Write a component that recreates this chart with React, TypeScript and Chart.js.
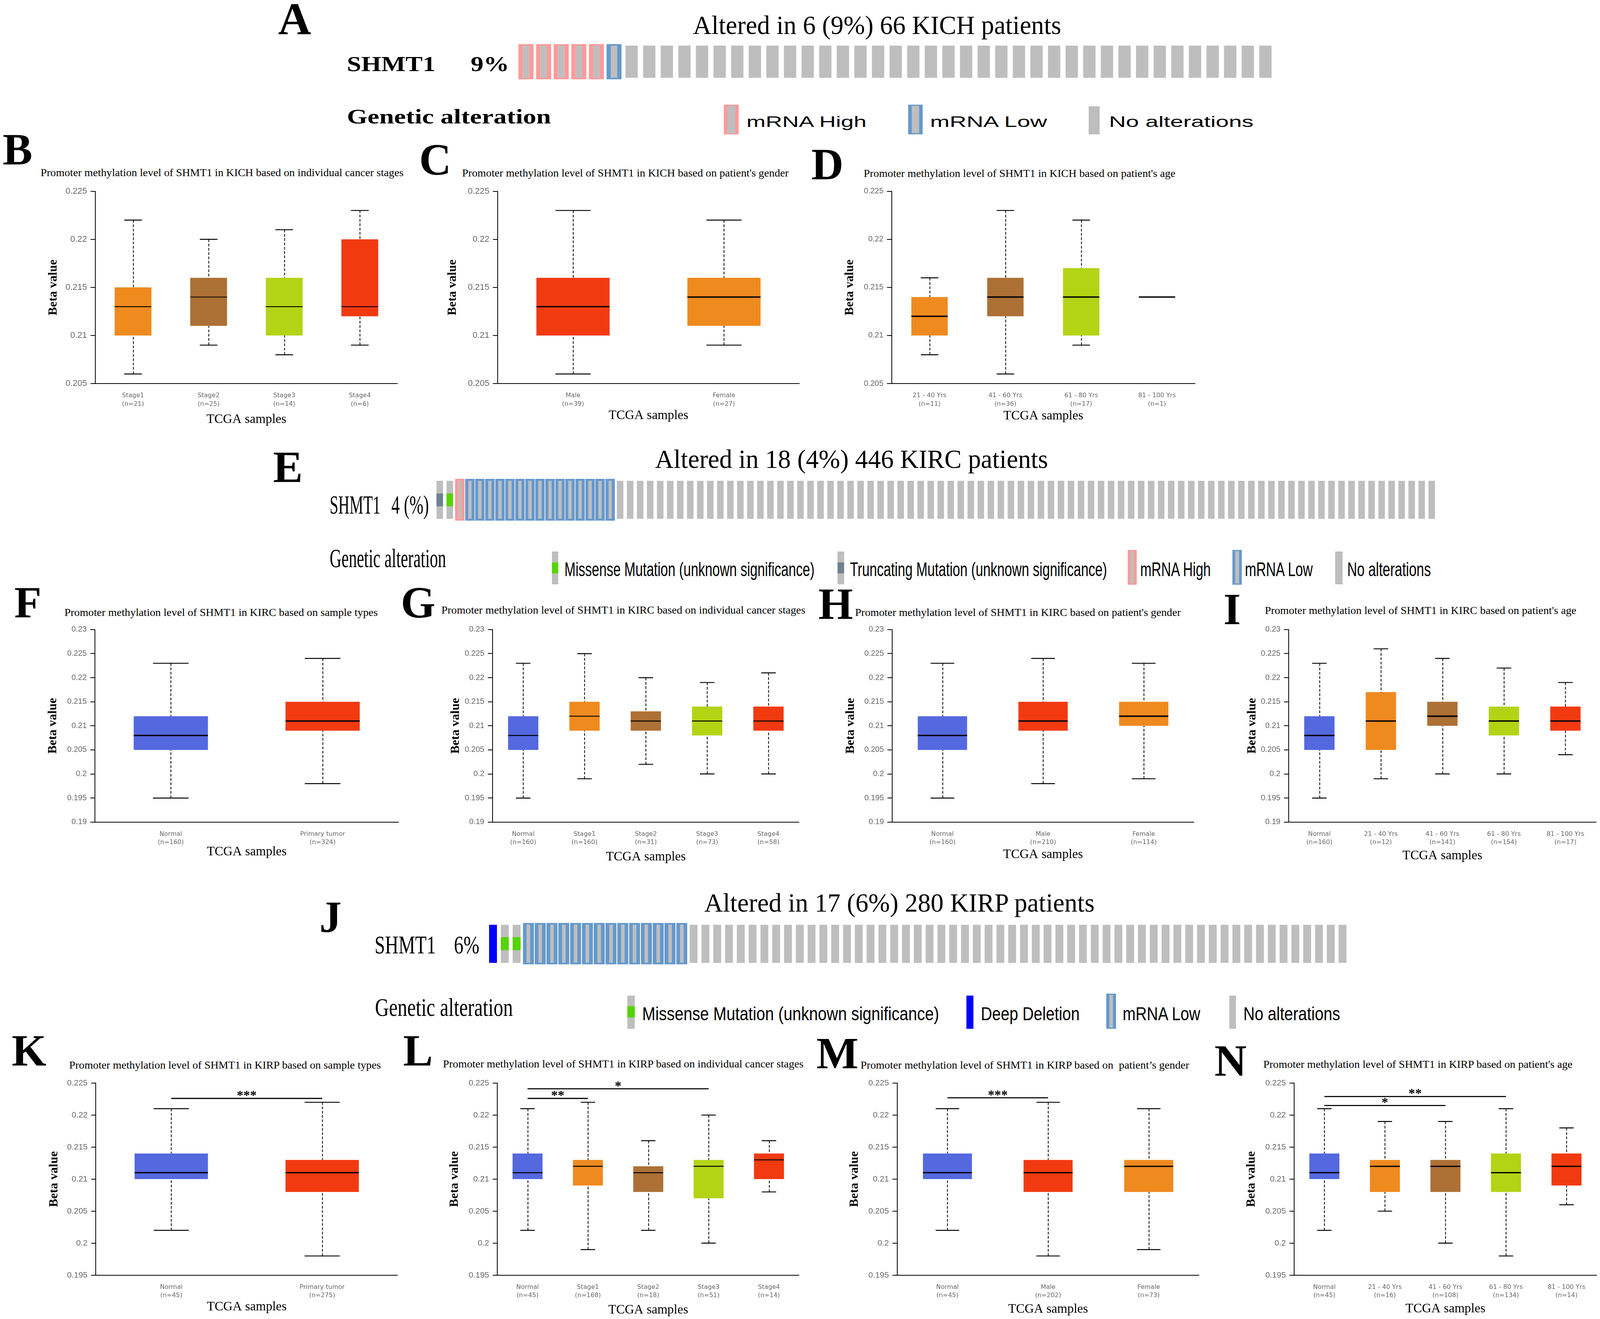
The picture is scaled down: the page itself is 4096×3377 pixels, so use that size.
import React, { useEffect, useRef } from "react";
import { Chart, registerables } from "chart.js";

Chart.register(...registerables);

const SERIF = '"Liberation Serif", "Times New Roman", Times, serif';
const SANS = '"Liberation Sans", Arial, Helvetica, sans-serif';
const CATF = '"DejaVu Sans", Verdana, sans-serif';

const BLUE = "#5468E0";
const RED = "#F23A11";
const ORANGE = "#EF8A1F";
const BROWN = "#AD7035";
const LIME = "#B2D415";
const GRAY = "#BEBEBE";
const PINK = "#FF9A9A";
const LOWBLUE = "#6699CC";
const GREEN = "#55D400";
const SLATE = "#708090";
const DEEP = "#0000FF";

// ================= DATA =================
const kichTicks = [0.205, 0.21, 0.215, 0.22, 0.225];
const kircTicks = [0.19, 0.195, 0.2, 0.205, 0.21, 0.215, 0.22, 0.225, 0.23];
const kirpTicks = [0.195, 0.2, 0.205, 0.21, 0.215, 0.22, 0.225];

// B - KICH, cancer stages
const bCats = [["Stage1", "(n=21)"], ["Stage2", "(n=25)"], ["Stage3", "(n=14)"], ["Stage4", "(n=6)"]];
const bMin = [0.206, 0.209, 0.208, 0.209];
const bQ1 = [0.21, 0.211, 0.21, 0.212];
const bMed = [0.213, 0.214, 0.213, 0.213];
const bQ3 = [0.215, 0.216, 0.216, 0.22];
const bMax = [0.222, 0.22, 0.221, 0.223];

// C - KICH, gender
const cCats = [["Male", "(n=39)"], ["Female", "(n=27)"]];
const cMin = [0.206, 0.209];
const cQ1 = [0.21, 0.211];
const cMed = [0.213, 0.214];
const cQ3 = [0.216, 0.216];
const cMax = [0.223, 0.222];

// D - KICH, age
const dCats = [["21 - 40 Yrs", "(n=11)"], ["41 - 60 Yrs", "(n=36)"], ["61 - 80 Yrs", "(n=17)"], ["81 - 100 Yrs", "(n=1)"]];
const dMin = [0.208, 0.206, 0.209, 0.214];
const dQ1 = [0.21, 0.212, 0.21, 0.214];
const dMed = [0.212, 0.214, 0.214, 0.214];
const dQ3 = [0.214, 0.216, 0.217, 0.214];
const dMax = [0.216, 0.223, 0.222, 0.214];

// F - KIRC, sample types
const fCats = [["Normal", "(n=160)"], ["Primary tumor", "(n=324)"]];
const fMin = [0.195, 0.198];
const fQ1 = [0.205, 0.209];
const fMed = [0.208, 0.211];
const fQ3 = [0.212, 0.215];
const fMax = [0.223, 0.224];

// G - KIRC, cancer stages
const gCats = [["Normal", "(n=160)"], ["Stage1", "(n=160)"], ["Stage2", "(n=31)"], ["Stage3", "(n=73)"], ["Stage4", "(n=58)"]];
const gMin = [0.195, 0.199, 0.202, 0.2, 0.2];
const gQ1 = [0.205, 0.209, 0.209, 0.208, 0.209];
const gMed = [0.208, 0.212, 0.211, 0.211, 0.211];
const gQ3 = [0.212, 0.215, 0.213, 0.214, 0.214];
const gMax = [0.223, 0.225, 0.22, 0.219, 0.221];

// H - KIRC, gender
const hCats = [["Normal", "(n=160)"], ["Male", "(n=210)"], ["Female", "(n=114)"]];
const hMin = [0.195, 0.198, 0.199];
const hQ1 = [0.205, 0.209, 0.21];
const hMed = [0.208, 0.211, 0.212];
const hQ3 = [0.212, 0.215, 0.215];
const hMax = [0.223, 0.224, 0.223];

// I - KIRC, age
const iCats = [["Normal", "(n=160)"], ["21 - 40 Yrs", "(n=12)"], ["41 - 60 Yrs", "(n=141)"], ["61 - 80 Yrs", "(n=154)"], ["81 - 100 Yrs", "(n=17)"]];
const iMin = [0.195, 0.199, 0.2, 0.2, 0.204];
const iQ1 = [0.205, 0.205, 0.21, 0.208, 0.209];
const iMed = [0.208, 0.211, 0.212, 0.211, 0.211];
const iQ3 = [0.212, 0.217, 0.215, 0.214, 0.214];
const iMax = [0.223, 0.226, 0.224, 0.222, 0.219];

// K - KIRP, sample types
const kCats = [["Normal", "(n=45)"], ["Primary tumor", "(n=275)"]];
const kMin = [0.202, 0.198];
const kQ1 = [0.21, 0.208];
const kMed = [0.211, 0.211];
const kQ3 = [0.214, 0.213];
const kMax = [0.221, 0.222];
const kSigFrom = [0];
const kSigTo = [1];
const kSigAt = [0.2226];
const kSigText = ["***"];

// L - KIRP, cancer stages
const lCats = [["Normal", "(n=45)"], ["Stage1", "(n=168)"], ["Stage2", "(n=18)"], ["Stage3", "(n=51)"], ["Stage4", "(n=14)"]];
const lMin = [0.202, 0.199, 0.202, 0.2, 0.208];
const lQ1 = [0.21, 0.209, 0.208, 0.207, 0.21];
const lMed = [0.211, 0.212, 0.211, 0.212, 0.213];
const lQ3 = [0.214, 0.213, 0.212, 0.213, 0.214];
const lMax = [0.221, 0.222, 0.216, 0.22, 0.216];
const lSigFrom = [0, 0];
const lSigTo = [1, 3];
const lSigAt = [0.2226, 0.2241];
const lSigText = ["**", "*"];

// M - KIRP, gender
const mCats = [["Normal", "(n=45)"], ["Male", "(n=202)"], ["Female", "(n=73)"]];
const mMin = [0.202, 0.198, 0.199];
const mQ1 = [0.21, 0.208, 0.208];
const mMed = [0.211, 0.211, 0.212];
const mQ3 = [0.214, 0.213, 0.213];
const mMax = [0.221, 0.222, 0.221];
const mSigFrom = [0];
const mSigTo = [1];
const mSigAt = [0.2227];
const mSigText = ["***"];

// N - KIRP, age
const nCats = [["Normal", "(n=45)"], ["21 - 40 Yrs", "(n=16)"], ["41 - 60 Yrs", "(n=108)"], ["61 - 80 Yrs", "(n=134)"], ["81 - 100 Yrs", "(n=14)"]];
const nMin = [0.202, 0.205, 0.2, 0.198, 0.206];
const nQ1 = [0.21, 0.208, 0.208, 0.208, 0.209];
const nMed = [0.211, 0.212, 0.212, 0.211, 0.212];
const nQ3 = [0.214, 0.213, 0.213, 0.214, 0.214];
const nMax = [0.221, 0.219, 0.219, 0.221, 0.218];
const nSigFrom = [0, 0];
const nSigTo = [3, 2];
const nSigAt = [0.2229, 0.2215];
const nSigText = ["**", "*"];

// Oncoprint columns (alteration type, run length)
const kichColumns: [string, number][] = [["high", 5], ["low", 1], ["none", 37]];
const kircColumns: [string, number][] = [["trunc", 1], ["missense", 1], ["high", 1], ["low", 15], ["none", 82]];
const kirpColumns: [string, number][] = [["deep", 1], ["missense", 2], ["low", 14], ["none", 56]];

// ================= HELPERS =================
let mctx: CanvasRenderingContext2D | null = null;
function textWidth(t: string, font: string) {
  if (!mctx) mctx = document.createElement("canvas").getContext("2d");
  mctx!.font = font;
  return mctx!.measureText(t).width;
}

function Txt(p: any) {
  const { t, x, y, size, family = SERIF, weight = "normal", align = "left", w, color = "#000" } = p;
  const font = `${weight} ${size}px ${family}`;
  const nat = textWidth(t, font) || 1;
  const sx = w ? w / nat : 1;
  const width = nat * sx;
  const left = align === "center" ? x - width / 2 : x;
  return (
    <div
      style={{
        position: "absolute",
        left,
        top: y - 0.84 * size,
        fontFamily: family,
        fontSize: size,
        fontWeight: weight as any,
        lineHeight: `${size}px`,
        whiteSpace: "pre",
        transform: `scaleX(${sx})`,
        transformOrigin: "0 0",
        color,
      }}
    >
      {t}
    </div>
  );
}

function Swatch(p: any) {
  const { x0, x1, y0, y1, fill = GRAY, border, bx = 0, by = 0, seg, segColor } = p;
  return (
    <div
      style={{
        position: "absolute",
        left: x0,
        top: y0,
        width: x1 - x0,
        height: y1 - y0,
        boxSizing: "border-box",
        background: fill,
        borderStyle: border ? "solid" : "none",
        borderColor: border || "transparent",
        borderLeftWidth: bx,
        borderRightWidth: bx,
        borderTopWidth: by,
        borderBottomWidth: by,
      }}
    >
      {seg ? (
        <div
          style={{
            position: "absolute",
            left: 0,
            right: 0,
            top: seg[0] - y0,
            height: seg[1] - seg[0],
            background: segColor,
          }}
        />
      ) : null}
    </div>
  );
}

const boxPlugin = {
  id: "boxWhisker",
  beforeDatasetsDraw(chart: any) {
    const st = chart.data.datasets[0].stats;
    const meta = chart.getDatasetMeta(0);
    const y = chart.scales.y;
    const ctx = chart.ctx;
    ctx.save();
    ctx.strokeStyle = "#000";
    ctx.lineWidth = 2;
    ctx.setLineDash([7, 4]);
    meta.data.forEach((bar: any, i: number) => {
      const x = Math.round(bar.x) + 0.5;
      ctx.beginPath();
      ctx.moveTo(x, y.getPixelForValue(st.max[i]));
      ctx.lineTo(x, y.getPixelForValue(st.q3[i]));
      ctx.moveTo(x, y.getPixelForValue(st.min[i]));
      ctx.lineTo(x, y.getPixelForValue(st.q1[i]));
      ctx.stroke();
    });
    ctx.restore();
  },
  afterDatasetsDraw(chart: any) {
    const st = chart.data.datasets[0].stats;
    const meta = chart.getDatasetMeta(0);
    const y = chart.scales.y;
    const ctx = chart.ctx;
    ctx.save();
    ctx.strokeStyle = "#000";
    ctx.setLineDash([]);
    meta.data.forEach((bar: any, i: number) => {
      const x = bar.x;
      const w = bar.width;
      const cw = w * st.capFrac;
      ctx.lineWidth = 2.4;
      ctx.beginPath();
      const yMax = y.getPixelForValue(st.max[i]);
      const yMin = y.getPixelForValue(st.min[i]);
      ctx.moveTo(x - cw / 2, yMax);
      ctx.lineTo(x + cw / 2, yMax);
      ctx.moveTo(x - cw / 2, yMin);
      ctx.lineTo(x + cw / 2, yMin);
      ctx.stroke();
      ctx.lineWidth = st.medW;
      ctx.beginPath();
      const yMed = y.getPixelForValue(st.med[i]);
      ctx.moveTo(x - w / 2, yMed);
      ctx.lineTo(x + w / 2, yMed);
      ctx.stroke();
    });
    if (st.sigFrom) {
      ctx.lineWidth = 2.8;
      ctx.fillStyle = "#000";
      ctx.font = `bold 34px ${SERIF}`;
      ctx.textAlign = "center";
      ctx.textBaseline = "alphabetic";
      st.sigFrom.forEach((f: number, k: number) => {
        const x0 = meta.data[f].x;
        const x1 = meta.data[st.sigTo[k]].x;
        const yy = y.getPixelForValue(st.sigAt[k]);
        ctx.beginPath();
        ctx.moveTo(x0, yy);
        ctx.lineTo(x1, yy);
        ctx.stroke();
        ctx.fillText(st.sigText[k], (x0 + x1) / 2, yy + 3);
      });
    }
    ctx.restore();
  },
};

const Y_TITLE = 32;
const X_TITLE = 33;

function BoxChart({ d, s }: any) {
  const ref = useRef<HTMLCanvasElement | null>(null);
  const yLH = Y_TITLE * 1.2;
  const xLH = X_TITLE * 1.2;
  const left = Math.round(s.bx - yLH / 2);
  const top = Math.round(s.T - 24);
  const right = Math.round(s.R + 4);
  const bottom = Math.round(s.ty + xLH / 2);
  const width = right - left;
  const height = bottom - top;
  useEffect(() => {
    const yAxisW = s.L - left;
    const xAxisH = bottom - s.Bt;
    const chart = new Chart(ref.current as HTMLCanvasElement, {
      type: "bar",
      data: {
        labels: d.cats,
        datasets: [
          {
            data: d.q1.map((v: number, i: number) => [v, d.q3[i]]),
            backgroundColor: d.colors,
            borderWidth: 0,
            barPercentage: s.box,
            categoryPercentage: 1,
            stats: {
              min: d.min,
              q1: d.q1,
              med: d.med,
              q3: d.q3,
              max: d.max,
              capFrac: 0.48,
              medW: s.med,
              sigFrom: d.sigFrom,
              sigTo: d.sigTo,
              sigAt: d.sigAt,
              sigText: d.sigText,
            },
          } as any,
        ],
      },
      options: {
        animation: false,
        responsive: false,
        devicePixelRatio: 1,
        layout: { padding: { top: s.T - top, right: right - s.R, left: 0, bottom: 0 } },
        plugins: { legend: { display: false }, tooltip: { enabled: false }, title: { display: false } },
        scales: {
          x: {
            type: "category",
            offset: true,
            grid: { display: false },
            border: { display: true, color: "#000", width: 2 },
            ticks: {
              font: { family: CATF, size: 16, lineHeight: 1.35 },
              color: "#666",
              padding: 12,
              maxRotation: 0,
              autoSkip: false,
            },
            title: {
              display: true,
              text: "TCGA samples",
              color: "#000",
              font: { family: SERIF, size: X_TITLE, lineHeight: 1.2 },
              padding: 0,
            },
            afterFit: (sc: any) => {
              sc.height = xAxisH;
            },
          },
          y: {
            type: "linear",
            min: d.ticks[0],
            max: d.ticks[d.ticks.length - 1],
            afterBuildTicks: (sc: any) => {
              sc.ticks = d.ticks.map((v: number) => ({ value: v }));
            },
            ticks: {
              callback: (v: any) => String(v),
              font: { family: SANS, size: s.tick },
              color: "#666",
              padding: 9,
            },
            grid: { drawOnChartArea: false, drawTicks: true, tickLength: 12, color: "#000", lineWidth: 2 },
            border: { display: true, color: "#000", width: 2 },
            title: {
              display: true,
              text: "Beta value",
              color: "#000",
              font: { family: SERIF, size: Y_TITLE, weight: "bold", lineHeight: 1.2 },
              padding: 0,
            },
            afterFit: (sc: any) => {
              sc.width = yAxisW;
            },
          },
        },
      } as any,
      plugins: [boxPlugin as any],
    });
    return () => chart.destroy();
  }, []);
  return <canvas ref={ref} width={width} height={height} style={{ position: "absolute", left, top, width, height }} />;
}

function expand(rle: [string, number][]) {
  const out: string[] = [];
  rle.forEach(([k, n]) => {
    for (let i = 0; i < n; i++) out.push(k);
  });
  return out;
}

function OncoChart({ rle, s }: any) {
  const ref = useRef<HTMLCanvasElement | null>(null);
  const left = Math.round(s.x0);
  const top = Math.round(s.y0);
  const width = Math.round(s.x1) - left;
  const height = Math.round(s.y1) - top;
  useEffect(() => {
    const cols = expand(rle);
    const base = (c: string) => c === "none" || c === "missense" || c === "trunc";
    const common = { categoryPercentage: 1, grouped: false, borderWidth: 0 };
    const chart = new Chart(ref.current as HTMLCanvasElement, {
      type: "bar",
      data: {
        labels: cols.map((_, i) => String(i + 1)),
        datasets: [
          {
            ...common,
            label: "Mutation",
            order: 0,
            data: cols.map((c) => (c === "missense" || c === "trunc" ? [s.mut[0], s.mut[1]] : null)),
            backgroundColor: cols.map((c) => (c === "missense" ? GREEN : SLATE)),
            barPercentage: s.grayFrac,
          },
          {
            ...common,
            label: "No alterations",
            order: 3,
            data: cols.map((c) => (base(c) ? [s.gray[0], s.gray[1]] : null)),
            backgroundColor: GRAY,
            barPercentage: s.grayFrac,
          },
          {
            ...common,
            label: "Deep Deletion",
            order: 2,
            data: cols.map((c) => (c === "deep" ? [s.gray[0], s.gray[1]] : null)),
            backgroundColor: DEEP,
            barPercentage: s.grayFrac,
          },
          {
            ...common,
            label: "mRNA",
            order: 1,
            data: cols.map((c) => (c === "high" || c === "low" ? [0, 1] : null)),
            backgroundColor: GRAY,
            borderColor: cols.map((c) => (c === "high" ? PINK : LOWBLUE)),
            borderWidth: { left: s.bwX, right: s.bwX, top: s.bwY, bottom: s.bwY },
            borderSkipped: false,
            barPercentage: s.altFrac,
          },
        ] as any,
      },
      options: {
        animation: false,
        responsive: false,
        devicePixelRatio: 1,
        layout: { padding: 0 },
        plugins: { legend: { display: false }, tooltip: { enabled: false } },
        scales: {
          x: { type: "category", offset: true, display: false },
          y: { type: "linear", min: 0, max: 1, display: false },
        },
      } as any,
    });
    return () => chart.destroy();
  }, []);
  return <canvas ref={ref} width={width} height={height} style={{ position: "absolute", left, top, width, height }} />;
}

// ================= PANELS (data + layout) =================
const boxPanels = [
  {
    d: { cats: bCats, min: bMin, q1: bQ1, med: bMed, q3: bQ3, max: bMax, colors: [ORANGE, BROWN, LIME, RED], ticks: kichTicks },
    s: { L: 243.8, R: 1017.9, T: 489.6, Bt: 982.1, bx: 137, ty: 1074.3, tick: 22, med: 2.2, box: 0.487 },
  },
  {
    d: { cats: cCats, min: cMin, q1: cQ1, med: cMed, q3: cQ3, max: cMax, colors: [RED, ORANGE], ticks: kichTicks },
    s: { L: 1273.7, R: 2046.6, T: 489.6, Bt: 982.1, bx: 1159.3, ty: 1064.5, tick: 22, med: 3.4, box: 0.485 },
  },
  {
    d: { cats: dCats, min: dMin, q1: dQ1, med: dMed, q3: dQ3, max: dMax, colors: [ORANGE, BROWN, LIME, RED], ticks: kichTicks },
    s: { L: 2282.6, R: 3059, T: 489.6, Bt: 982.1, bx: 2176.4, ty: 1065.6, tick: 20, med: 3.4, box: 0.48 },
  },
  {
    d: { cats: fCats, min: fMin, q1: fQ1, med: fMed, q3: fQ3, max: fMax, colors: [BLUE, RED], ticks: kircTicks },
    s: { L: 243, R: 1020.2, T: 1611.8, Bt: 2104.8, bx: 136.4, ty: 2181.4, tick: 20, med: 3.6, box: 0.489 },
  },
  {
    d: { cats: gCats, min: gMin, q1: gQ1, med: gMed, q3: gQ3, max: gMax, colors: [BLUE, ORANGE, BROWN, LIME, RED], ticks: kircTicks },
    s: { L: 1260.9, R: 2045.8, T: 1611.8, Bt: 2104.8, bx: 1167.2, ty: 2194, tick: 20, med: 2.4, box: 0.494 },
  },
  {
    d: { cats: hCats, min: hMin, q1: hQ1, med: hMed, q3: hQ3, max: hMax, colors: [BLUE, RED, ORANGE], ticks: kircTicks },
    s: { L: 2283.8, R: 3056.7, T: 1611.8, Bt: 2104.8, bx: 2178.6, ty: 2188.3, tick: 20, med: 3.6, box: 0.49 },
  },
  {
    d: { cats: iCats, min: iMin, q1: iQ1, med: iMed, q3: iQ3, max: iMax, colors: [BLUE, ORANGE, BROWN, LIME, RED], ticks: kircTicks },
    s: { L: 3298.9, R: 4086.2, T: 1611.8, Bt: 2104.8, bx: 3206, ty: 2191.5, tick: 20, med: 3.6, box: 0.493 },
  },
  {
    d: {
      cats: kCats, min: kMin, q1: kQ1, med: kMed, q3: kQ3, max: kMax, colors: [BLUE, RED], ticks: kirpTicks,
      sigFrom: kSigFrom, sigTo: kSigTo, sigAt: kSigAt, sigText: kSigText,
    },
    s: { L: 245.3, R: 1017.9, T: 2772.9, Bt: 3264.8, bx: 139, ty: 3346, tick: 21, med: 3.3, box: 0.486 },
  },
  {
    d: {
      cats: lCats, min: lMin, q1: lQ1, med: lMed, q3: lQ3, max: lMax, colors: [BLUE, ORANGE, BROWN, LIME, RED], ticks: kirpTicks,
      sigFrom: lSigFrom, sigTo: lSigTo, sigAt: lSigAt, sigText: lSigText,
    },
    s: { L: 1273.3, R: 2045.8, T: 2772.9, Bt: 3264.8, bx: 1164.4, ty: 3354, tick: 21, med: 2.4, box: 0.497 },
  },
  {
    d: {
      cats: mCats, min: mMin, q1: mQ1, med: mMed, q3: mQ3, max: mMax, colors: [BLUE, RED, ORANGE], ticks: kirpTicks,
      sigFrom: mSigFrom, sigTo: mSigTo, sigAt: mSigAt, sigText: mSigText,
    },
    s: { L: 2296.6, R: 3069.6, T: 2772.9, Bt: 3264.8, bx: 2187.7, ty: 3352.6, tick: 21, med: 3.3, box: 0.487 },
  },
  {
    d: {
      cats: nCats, min: nMin, q1: nQ1, med: nMed, q3: nQ3, max: nMax, colors: [BLUE, ORANGE, BROWN, LIME, RED], ticks: kirpTicks,
      sigFrom: nSigFrom, sigTo: nSigTo, sigAt: nSigAt, sigText: nSigText,
    },
    s: { L: 3312.9, R: 4087.7, T: 2772.9, Bt: 3264.8, bx: 3204, ty: 3351, tick: 21, med: 3.3, box: 0.496 },
  },
];

const oncoPanels = [
  { rle: kichColumns, s: { x0: 1323.8, x1: 3261.7, y0: 113.4, y1: 203.4, grayFrac: 0.7, altFrac: 0.86, gray: [0.043, 0.958], mut: [0.34, 0.66], bwX: 11.3, bwY: 3.9 } },
  { rle: kircColumns, s: { x0: 1113.4, x1: 3677.5, y0: 1225.7, y1: 1332.8, grayFrac: 0.65, altFrac: 0.95, gray: [0.044, 0.954], mut: [0.343, 0.651], bwX: 8.3, bwY: 4.9 } },
  { rle: kirpColumns, s: { x0: 1246.5, x1: 3451.5, y0: 2362.6, y1: 2469, grayFrac: 0.667, altFrac: 0.94, gray: [0.036, 0.956], mut: [0.343, 0.657], bwX: 10, bwY: 4.7 } },
];

const TITLE_SIZE = 26.5;
const boxTitles = [
  { t: "Promoter methylation level of SHMT1 in KICH based on individual cancer stages", x: 568, y: 450.8, w: 929 },
  { t: "Promoter methylation level of SHMT1 in KICH based on patient's gender", x: 1600.6, y: 452, w: 836 },
  { t: "Promoter methylation level of SHMT1 in KICH based on patient's age", x: 2610, y: 453, w: 798 },
  { t: "Promoter methylation level of SHMT1 in KIRC based on sample types", x: 565.6, y: 1577.7, w: 802 },
  { t: "Promoter methylation level of SHMT1 in KIRC based on individual cancer stages", x: 1595.5, y: 1571, w: 931.7 },
  { t: "Promoter methylation level of SHMT1 in KIRC based on patient's gender", x: 2606.4, y: 1577.7, w: 833.9 },
  { t: "Promoter methylation level of SHMT1 in KIRC based on patient's age", x: 3636.3, y: 1572.3, w: 797.4 },
  { t: "Promoter methylation level of SHMT1 in KIRP based on sample types", x: 576.5, y: 2736, w: 799 },
  { t: "Promoter methylation level of SHMT1 in KIRP based on individual cancer stages", x: 1595.5, y: 2733, w: 924 },
  { t: "Promoter methylation level of SHMT1 in KIRP based on  patient\u2019s gender", x: 2624.6, y: 2736, w: 842.4 },
  { t: "Promoter methylation level of SHMT1 in KIRP based on patient's age", x: 3630.8, y: 2734, w: 792.7 },
];

const letters = [
  { t: "A", x: 712, y: 87, size: 117 },
  { t: "B", x: 7, y: 421.6, size: 114 },
  { t: "C", x: 1073, y: 448, size: 114 },
  { t: "D", x: 2077, y: 460, size: 114 },
  { t: "E", x: 699, y: 1234.5, size: 114 },
  { t: "F", x: 36.5, y: 1581, size: 114 },
  { t: "G", x: 1026, y: 1582, size: 114 },
  { t: "H", x: 2095, y: 1586, size: 114 },
  { t: "I", x: 3132, y: 1599, size: 114 },
  { t: "J", x: 817.5, y: 2387, size: 114 },
  { t: "K", x: 30, y: 2729, size: 114 },
  { t: "L", x: 1032, y: 2729, size: 114 },
  { t: "M", x: 2090, y: 2736, size: 114 },
  { t: "N", x: 3109, y: 2755, size: 114 },
];

export default function App() {
  return (
    <div
      style={{
        position: "absolute",
        left: 0,
        top: 0,
        width: 4096,
        height: 3377,
        overflow: "hidden",
        background: "#fff",
      }}
    >
      {letters.map((l) => (
        <Txt key={l.t} t={l.t} x={l.x} y={l.y} size={l.size} weight="bold" />
      ))}
      {boxTitles.map((b, i) => (
        <Txt key={"bt" + i} t={b.t} x={b.x} y={b.y} size={TITLE_SIZE} align="center" w={b.w} />
      ))}

      {/* A */}
      <Txt t="Altered in 6 (9%) 66 KICH patients" x={2245} y={87} size={67} align="center" w={942.6} />
      <Txt t="SHMT1" x={888} y={182.5} size={55} weight="bold" w={227} />
      <Txt t="9%" x={1205} y={182.5} size={55} weight="bold" w={98.6} />
      <Txt t="Genetic alteration" x={888} y={317} size={53} weight="bold" w={522.5} />
      <Swatch x0={1852.5} x1={1891.3} y0={267.9} y1={344} border={PINK} bx={9} by={3} />
      <Txt t="mRNA High" x={1911} y={325} size={38} family={SANS} w={310.5} />
      <Swatch x0={2324.5} x1={2361.8} y0={267.9} y1={344} border={LOWBLUE} bx={9} by={3} />
      <Txt t="mRNA Low" x={2381} y={325} size={38} family={SANS} w={302.8} />
      <Swatch x0={2786.5} x1={2814.5} y0={271.7} y1={344} />
      <Txt t="No alterations" x={2839} y={325} size={38} family={SANS} w={370} />

      {/* E */}
      <Txt t="Altered in 18 (4%) 446 KIRC patients" x={2180} y={1198} size={67} align="center" w={1006} />
      <Txt t="SHMT1" x={843.6} y={1316} size={67.5} w={130} />
      <Txt t="4 (%)" x={1002} y={1316} size={67.5} w={96} />
      <Txt t="Genetic alteration" x={843.6} y={1452.7} size={67.5} w={298} />
      <Swatch x0={1413} x1={1428.6} y0={1412} y1={1496} seg={[1439.5, 1468]} segColor={GREEN} />
      <Txt t="Missense Mutation (unknown significance)" x={1445} y={1475} size={49.5} family={SANS} w={640} />
      <Swatch x0={2143.6} x1={2160.7} y0={1412} y1={1496} seg={[1439.5, 1468]} segColor={SLATE} />
      <Txt t="Truncating Mutation (unknown significance)" x={2176} y={1475} size={49.5} family={SANS} w={658} />
      <Swatch x0={2886.7} x1={2909.9} y0={1408} y1={1497} border={PINK} bx={7} by={3} />
      <Txt t="mRNA High" x={2918.5} y={1475} size={49.5} family={SANS} w={182.5} />
      <Swatch x0={3155.3} x1={3178.6} y0={1408} y1={1497} border={LOWBLUE} bx={7} by={3} />
      <Txt t="mRNA Low" x={3187} y={1475} size={49.5} family={SANS} w={175.5} />
      <Swatch x0={3417.7} x1={3437} y0={1412} y1={1496} />
      <Txt t="No alterations" x={3449} y={1475} size={49.5} family={SANS} w={214} />

      {/* J */}
      <Txt t="Altered in 17 (6%) 280 KIRP patients" x={2304} y={2334.5} size={67} align="center" w={1001.6} />
      <Txt t="SHMT1" x={959} y={2442} size={66.5} w={156.8} />
      <Txt t="6%" x={1162} y={2442} size={66.5} w={65} />
      <Txt t="Genetic alteration" x={960} y={2602} size={66.5} w={353} />
      <Swatch x0={1606.4} x1={1625} y0={2549} y1={2633.5} seg={[2576, 2605]} segColor={GREEN} />
      <Txt t="Missense Mutation (unknown significance)" x={1643.6} y={2612.6} size={49} family={SANS} w={760} />
      <Swatch x0={2473.6} x1={2492.2} y0={2549} y1={2633.5} fill={DEEP} />
      <Txt t="Deep Deletion" x={2511} y={2612.6} size={49} family={SANS} w={253} />
      <Swatch x0={2832.4} x1={2857.2} y0={2544} y1={2633.5} border={LOWBLUE} bx={8} by={3} />
      <Txt t="mRNA Low" x={2874} y={2612.6} size={49} family={SANS} w={201} />
      <Swatch x0={3146.7} x1={3163.8} y0={2549} y1={2633.5} />
      <Txt t="No alterations" x={3182.5} y={2612.6} size={49} family={SANS} w={247.7} />

      {oncoPanels.map((o, i) => (
        <OncoChart key={"o" + i} rle={o.rle} s={o.s} />
      ))}
      {boxPanels.map((p, i) => (
        <BoxChart key={"b" + i} d={p.d} s={p.s} />
      ))}
    </div>
  );
}
